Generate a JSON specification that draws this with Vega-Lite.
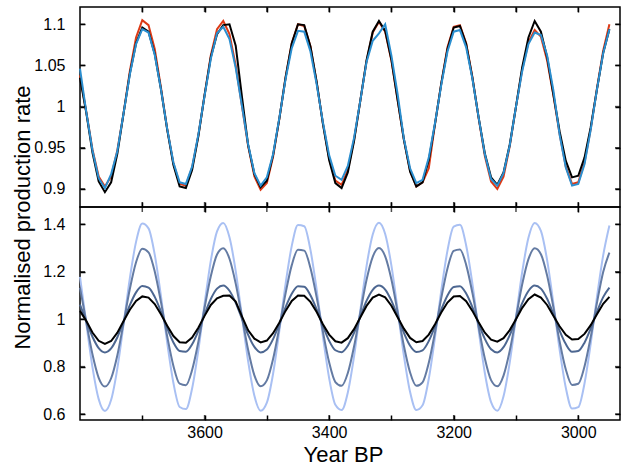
{
  "$schema": "https://vega.github.io/schema/vega-lite/v6.json",
  "padding": {"left": 10, "top": 6, "right": 3, "bottom": 0},
  "spacing": 0,
  "bounds": "flush",
  "config": {
    "view": {"stroke": "black", "strokeWidth": 1.5},
    "axis": {
      "domain": false, "grid": false, "ticks": false, "tickSize": 0,
      "gridColor": "#000000", "gridWidth": 1.5, "gridDash": [5, 1200], "gridOpacity": 1,
      "labelFont": "Liberation Sans", "labelFontSize": 16, "labelColor": "black",
      "titleFont": "Liberation Sans", "titleFontSize": 22, "titleFontWeight": "normal", "titleColor": "black"
    },
    "tick": {"color": "black", "thickness": 1.5, "size": 5}
  },
  "vconcat": [
    {
      "width": 540,
      "height": 200,
      "data": {"values": [
        {"yr":3800,"K":1.035,"R":1.038,"B":1.046},
        {"yr":3790,"K":0.993,"R":0.994,"B":0.994},
        {"yr":3780,"K":0.944,"R":0.948,"B":0.947},
        {"yr":3770,"K":0.909,"R":0.915,"B":0.913},
        {"yr":3760,"K":0.896,"R":0.903,"B":0.901},
        {"yr":3750,"K":0.908,"R":0.915,"B":0.918},
        {"yr":3740,"K":0.943,"R":0.947,"B":0.946},
        {"yr":3730,"K":0.992,"R":0.992,"B":0.992},
        {"yr":3720,"K":1.040,"R":1.043,"B":1.039},
        {"yr":3710,"K":1.077,"R":1.084,"B":1.076},
        {"yr":3700,"K":1.096,"R":1.105,"B":1.094},
        {"yr":3690,"K":1.091,"R":1.099,"B":1.090},
        {"yr":3680,"K":1.064,"R":1.070,"B":1.063},
        {"yr":3670,"K":1.021,"R":1.023,"B":1.021},
        {"yr":3660,"K":0.972,"R":0.973,"B":0.973},
        {"yr":3650,"K":0.929,"R":0.931,"B":0.932},
        {"yr":3640,"K":0.903,"R":0.906,"B":0.908},
        {"yr":3630,"K":0.901,"R":0.904,"B":0.906},
        {"yr":3620,"K":0.923,"R":0.926,"B":0.927},
        {"yr":3610,"K":0.964,"R":0.965,"B":0.966},
        {"yr":3600,"K":1.014,"R":1.014,"B":1.013},
        {"yr":3590,"K":1.060,"R":1.062,"B":1.058},
        {"yr":3580,"K":1.088,"R":1.094,"B":1.089},
        {"yr":3570,"K":1.099,"R":1.104,"B":1.097},
        {"yr":3560,"K":1.100,"R":1.088,"B":1.082},
        {"yr":3550,"K":1.074,"R":1.050,"B":1.047},
        {"yr":3540,"K":1.012,"R":1.001,"B":1.001},
        {"yr":3530,"K":0.953,"R":0.952,"B":0.954},
        {"yr":3520,"K":0.918,"R":0.915,"B":0.919},
        {"yr":3510,"K":0.902,"R":0.899,"B":0.904},
        {"yr":3500,"K":0.910,"R":0.907,"B":0.914},
        {"yr":3490,"K":0.941,"R":0.939,"B":0.942},
        {"yr":3480,"K":0.985,"R":0.985,"B":0.986},
        {"yr":3470,"K":1.035,"R":1.035,"B":1.033},
        {"yr":3460,"K":1.077,"R":1.077,"B":1.071},
        {"yr":3450,"K":1.100,"R":1.100,"B":1.092},
        {"yr":3440,"K":1.099,"R":1.098,"B":1.091},
        {"yr":3430,"K":1.073,"R":1.073,"B":1.067},
        {"yr":3420,"K":1.030,"R":1.029,"B":1.027},
        {"yr":3410,"K":0.979,"R":0.980,"B":0.981},
        {"yr":3400,"K":0.935,"R":0.937,"B":0.941},
        {"yr":3390,"K":0.907,"R":0.910,"B":0.916},
        {"yr":3380,"K":0.901,"R":0.905,"B":0.911},
        {"yr":3370,"K":0.920,"R":0.923,"B":0.928},
        {"yr":3360,"K":0.958,"R":0.960,"B":0.962},
        {"yr":3350,"K":1.007,"R":1.007,"B":1.007},
        {"yr":3340,"K":1.056,"R":1.055,"B":1.054},
        {"yr":3330,"K":1.091,"R":1.090,"B":1.080},
        {"yr":3320,"K":1.104,"R":1.103,"B":1.089},
        {"yr":3310,"K":1.092,"R":1.091,"B":1.100},
        {"yr":3300,"K":1.057,"R":1.056,"B":1.062},
        {"yr":3290,"K":1.008,"R":1.008,"B":1.015},
        {"yr":3280,"K":0.960,"R":0.960,"B":0.961},
        {"yr":3270,"K":0.921,"R":0.922,"B":0.925},
        {"yr":3260,"K":0.903,"R":0.903,"B":0.907},
        {"yr":3250,"K":0.908,"R":0.908,"B":0.911},
        {"yr":3240,"K":0.935,"R":0.925,"B":0.938},
        {"yr":3230,"K":0.979,"R":0.979,"B":0.980},
        {"yr":3220,"K":1.028,"R":1.028,"B":1.026},
        {"yr":3210,"K":1.070,"R":1.072,"B":1.067},
        {"yr":3200,"K":1.096,"R":1.097,"B":1.091},
        {"yr":3190,"K":1.098,"R":1.099,"B":1.093},
        {"yr":3180,"K":1.076,"R":1.077,"B":1.072},
        {"yr":3170,"K":1.035,"R":1.036,"B":1.034},
        {"yr":3160,"K":0.987,"R":0.986,"B":0.987},
        {"yr":3150,"K":0.943,"R":0.940,"B":0.942},
        {"yr":3140,"K":0.914,"R":0.909,"B":0.912},
        {"yr":3130,"K":0.905,"R":0.900,"B":0.904},
        {"yr":3120,"K":0.920,"R":0.915,"B":0.919},
        {"yr":3110,"K":0.954,"R":0.952,"B":0.953},
        {"yr":3100,"K":1.000,"R":1.000,"B":1.000},
        {"yr":3090,"K":1.048,"R":1.045,"B":1.043},
        {"yr":3080,"K":1.084,"R":1.078,"B":1.076},
        {"yr":3070,"K":1.104,"R":1.093,"B":1.090},
        {"yr":3060,"K":1.091,"R":1.085,"B":1.087},
        {"yr":3050,"K":1.060,"R":1.056,"B":1.062},
        {"yr":3040,"K":1.015,"R":1.014,"B":1.020},
        {"yr":3030,"K":0.970,"R":0.967,"B":0.966},
        {"yr":3020,"K":0.934,"R":0.927,"B":0.926},
        {"yr":3010,"K":0.914,"R":0.906,"B":0.904},
        {"yr":3000,"K":0.916,"R":0.908,"B":0.906},
        {"yr":2990,"K":0.938,"R":0.932,"B":0.930},
        {"yr":2980,"K":0.975,"R":0.973,"B":0.972},
        {"yr":2970,"K":1.021,"R":1.022,"B":1.021},
        {"yr":2960,"K":1.065,"R":1.068,"B":1.065},
        {"yr":2950,"K":1.094,"R":1.100,"B":1.094}
      ]},
      "layer": [
        {
          "mark": {"type": "line", "color": "#dd3a16", "strokeWidth": 2},
          "encoding": {
            "x": {"field": "yr", "type": "quantitative",
                  "scale": {"domain": [2933, 3800], "reverse": true, "nice": false, "zero": false},
                  "axis": {"orient": "bottom", "values": [3700,3600,3500,3400,3300,3200,3100,3000], "labels": false, "title": null, "grid": true}},
            "y": {"field": "R", "type": "quantitative",
                  "scale": {"domain": [0.878, 1.121], "nice": false, "zero": false},
                  "axis": {"orient": "left", "values": [0.9,0.95,1,1.05,1.1], "format": "~g", "labelPadding": 15, "grid": true,
                           "title": "Normalised production rate", "titleAngle": -90, "titleX": -51, "titleY": 210,
                           "titleBaseline": "alphabetic", "titleAlign": "center"}}
          }
        },
        {
          "mark": {"type": "line", "color": "#000000", "strokeWidth": 2},
          "encoding": {
            "x": {"field": "yr", "type": "quantitative",
                  "scale": {"domain": [2933, 3800], "reverse": true, "nice": false, "zero": false},
                  "axis": {"orient": "top", "values": [3700,3600,3500,3400,3300,3200,3100,3000], "labels": false, "title": null, "grid": true}},
            "y": {"field": "K", "type": "quantitative",
                  "scale": {"domain": [0.878, 1.121], "nice": false, "zero": false},
                  "axis": {"orient": "right", "values": [0.9,0.95,1,1.05,1.1], "labels": false, "title": null, "grid": true}}
          }
        },
        {
          "mark": {"type": "line", "color": "#2b8fd0", "strokeWidth": 2},
          "encoding": {
            "x": {"field": "yr", "type": "quantitative",
                  "scale": {"domain": [2933, 3800], "reverse": true, "nice": false, "zero": false}, "axis": null},
            "y": {"field": "B", "type": "quantitative",
                  "scale": {"domain": [0.878, 1.121], "nice": false, "zero": false}, "axis": null}
          }
        },
        {
          "data": {"values": [{"v":3700},{"v":3600},{"v":3500},{"v":3400},{"v":3300},{"v":3200},{"v":3100},{"v":3000}]},
          "mark": {"type": "tick", "orient": "vertical", "yOffset": 2.5},
          "encoding": {
            "x": {"field": "v", "type": "quantitative",
                  "scale": {"domain": [2933, 3800], "reverse": true, "nice": false, "zero": false}, "axis": null},
            "y": {"datum": 1.121, "type": "quantitative",
                  "scale": {"domain": [0.878, 1.121], "nice": false, "zero": false}, "axis": null}
          }
        },
        {
          "data": {"values": [{"v":3700},{"v":3600},{"v":3500},{"v":3400},{"v":3300},{"v":3200},{"v":3100},{"v":3000}]},
          "mark": {"type": "tick", "orient": "vertical", "yOffset": -2.5},
          "encoding": {
            "x": {"field": "v", "type": "quantitative",
                  "scale": {"domain": [2933, 3800], "reverse": true, "nice": false, "zero": false}, "axis": null},
            "y": {"datum": 0.878, "type": "quantitative",
                  "scale": {"domain": [0.878, 1.121], "nice": false, "zero": false}, "axis": null}
          }
        },
        {
          "data": {"values": [{"v":0.9},{"v":0.95},{"v":1},{"v":1.05},{"v":1.1}]},
          "mark": {"type": "tick", "orient": "horizontal", "xOffset": 2.5},
          "encoding": {
            "x": {"datum": 3800, "type": "quantitative",
                  "scale": {"domain": [2933, 3800], "reverse": true, "nice": false, "zero": false}, "axis": null},
            "y": {"field": "v", "type": "quantitative",
                  "scale": {"domain": [0.878, 1.121], "nice": false, "zero": false}, "axis": null}
          }
        },
        {
          "data": {"values": [{"v":0.9},{"v":0.95},{"v":1},{"v":1.05},{"v":1.1}]},
          "mark": {"type": "tick", "orient": "horizontal", "xOffset": -2.5},
          "encoding": {
            "x": {"datum": 2933, "type": "quantitative",
                  "scale": {"domain": [2933, 3800], "reverse": true, "nice": false, "zero": false}, "axis": null},
            "y": {"field": "v", "type": "quantitative",
                  "scale": {"domain": [0.878, 1.121], "nice": false, "zero": false}, "axis": null}
          }
        }
      ],
      "resolve": {"axis": {"x": "independent", "y": "independent"}}
    },
    {
      "width": 540,
      "height": 213,
      "data": {"values": [
        {"yr":3800,"L":1.178,"M3":1.132,"M15":1.061,"K":1.035},
        {"yr":3790,"L":0.985,"M3":0.989,"M15":0.992,"K":0.993},
        {"yr":3780,"L":0.798,"M3":0.852,"M15":0.926,"K":0.944},
        {"yr":3770,"L":0.663,"M3":0.753,"M15":0.878,"K":0.909},
        {"yr":3760,"L":0.613,"M3":0.716,"M15":0.860,"K":0.896},
        {"yr":3750,"L":0.660,"M3":0.751,"M15":0.877,"K":0.908},
        {"yr":3740,"L":0.793,"M3":0.848,"M15":0.924,"K":0.943},
        {"yr":3730,"L":0.979,"M3":0.985,"M15":0.990,"K":0.992},
        {"yr":3720,"L":1.172,"M3":1.127,"M15":1.059,"K":1.040},
        {"yr":3710,"L":1.326,"M3":1.240,"M15":1.113,"K":1.077},
        {"yr":3700,"L":1.403,"M3":1.297,"M15":1.140,"K":1.096},
        {"yr":3690,"L":1.383,"M3":1.282,"M15":1.133,"K":1.091},
        {"yr":3680,"L":1.272,"M3":1.201,"M15":1.094,"K":1.064},
        {"yr":3670,"L":1.097,"M3":1.072,"M15":1.032,"K":1.021},
        {"yr":3660,"L":0.901,"M3":0.928,"M15":0.962,"K":0.972},
        {"yr":3650,"L":0.731,"M3":0.803,"M15":0.902,"K":0.929},
        {"yr":3640,"L":0.630,"M3":0.728,"M15":0.866,"K":0.903},
        {"yr":3630,"L":0.621,"M3":0.722,"M15":0.863,"K":0.901},
        {"yr":3620,"L":0.708,"M3":0.786,"M15":0.894,"K":0.923},
        {"yr":3610,"L":0.869,"M3":0.904,"M15":0.951,"K":0.964},
        {"yr":3600,"L":1.064,"M3":1.048,"M15":1.020,"K":1.014},
        {"yr":3590,"L":1.246,"M3":1.181,"M15":1.085,"K":1.060},
        {"yr":3580,"L":1.370,"M3":1.273,"M15":1.129,"K":1.088},
        {"yr":3570,"L":1.406,"M3":1.299,"M15":1.142,"K":1.099},
        {"yr":3560,"L":1.345,"M3":1.255,"M15":1.120,"K":1.100},
        {"yr":3550,"L":1.203,"M3":1.150,"M15":1.069,"K":1.074},
        {"yr":3540,"L":1.012,"M3":1.010,"M15":1.002,"K":1.012},
        {"yr":3530,"L":0.822,"M3":0.870,"M15":0.934,"K":0.953},
        {"yr":3520,"L":0.677,"M3":0.763,"M15":0.883,"K":0.918},
        {"yr":3510,"L":0.614,"M3":0.717,"M15":0.860,"K":0.902},
        {"yr":3500,"L":0.648,"M3":0.742,"M15":0.872,"K":0.910},
        {"yr":3490,"L":0.770,"M3":0.832,"M15":0.916,"K":0.941},
        {"yr":3480,"L":0.951,"M3":0.965,"M15":0.980,"K":0.985},
        {"yr":3470,"L":1.147,"M3":1.108,"M15":1.050,"K":1.035},
        {"yr":3460,"L":1.309,"M3":1.228,"M15":1.107,"K":1.077},
        {"yr":3450,"L":1.397,"M3":1.293,"M15":1.139,"K":1.100},
        {"yr":3440,"L":1.392,"M3":1.289,"M15":1.137,"K":1.099},
        {"yr":3430,"L":1.292,"M3":1.216,"M15":1.101,"K":1.073},
        {"yr":3420,"L":1.124,"M3":1.092,"M15":1.041,"K":1.030},
        {"yr":3410,"L":0.928,"M3":0.948,"M15":0.972,"K":0.979},
        {"yr":3400,"L":0.752,"M3":0.818,"M15":0.909,"K":0.935},
        {"yr":3390,"L":0.639,"M3":0.735,"M15":0.869,"K":0.907},
        {"yr":3380,"L":0.617,"M3":0.719,"M15":0.861,"K":0.901},
        {"yr":3370,"L":0.691,"M3":0.773,"M15":0.888,"K":0.920},
        {"yr":3360,"L":0.843,"M3":0.885,"M15":0.942,"K":0.958},
        {"yr":3350,"L":1.036,"M3":1.027,"M15":1.010,"K":1.007},
        {"yr":3340,"L":1.223,"M3":1.165,"M15":1.077,"K":1.056},
        {"yr":3330,"L":1.357,"M3":1.263,"M15":1.124,"K":1.091},
        {"yr":3320,"L":1.407,"M3":1.300,"M15":1.142,"K":1.104},
        {"yr":3310,"L":1.359,"M3":1.265,"M15":1.125,"K":1.092},
        {"yr":3300,"L":1.226,"M3":1.167,"M15":1.078,"K":1.057},
        {"yr":3290,"L":1.040,"M3":1.030,"M15":1.012,"K":1.008},
        {"yr":3280,"L":0.847,"M3":0.888,"M15":0.943,"K":0.960},
        {"yr":3270,"L":0.693,"M3":0.775,"M15":0.888,"K":0.921},
        {"yr":3260,"L":0.617,"M3":0.719,"M15":0.862,"K":0.903},
        {"yr":3250,"L":0.637,"M3":0.734,"M15":0.869,"K":0.908},
        {"yr":3240,"L":0.749,"M3":0.816,"M15":0.908,"K":0.935},
        {"yr":3230,"L":0.924,"M3":0.945,"M15":0.970,"K":0.979},
        {"yr":3220,"L":1.120,"M3":1.089,"M15":1.040,"K":1.028},
        {"yr":3210,"L":1.289,"M3":1.214,"M15":1.100,"K":1.070},
        {"yr":3200,"L":1.390,"M3":1.288,"M15":1.136,"K":1.096},
        {"yr":3190,"L":1.398,"M3":1.294,"M15":1.139,"K":1.098},
        {"yr":3180,"L":1.311,"M3":1.229,"M15":1.108,"K":1.076},
        {"yr":3170,"L":1.150,"M3":1.111,"M15":1.051,"K":1.035},
        {"yr":3160,"L":0.955,"M3":0.968,"M15":0.982,"K":0.987},
        {"yr":3150,"L":0.773,"M3":0.834,"M15":0.917,"K":0.943},
        {"yr":3140,"L":0.650,"M3":0.743,"M15":0.873,"K":0.914},
        {"yr":3130,"L":0.614,"M3":0.717,"M15":0.860,"K":0.905},
        {"yr":3120,"L":0.675,"M3":0.762,"M15":0.882,"K":0.920},
        {"yr":3110,"L":0.818,"M3":0.867,"M15":0.933,"K":0.954},
        {"yr":3100,"L":1.008,"M3":1.007,"M15":1.000,"K":1.000},
        {"yr":3090,"L":1.199,"M3":1.147,"M15":1.068,"K":1.048},
        {"yr":3080,"L":1.343,"M3":1.253,"M15":1.119,"K":1.084},
        {"yr":3070,"L":1.406,"M3":1.299,"M15":1.142,"K":1.104},
        {"yr":3060,"L":1.372,"M3":1.274,"M15":1.129,"K":1.091},
        {"yr":3050,"L":1.249,"M3":1.184,"M15":1.086,"K":1.060},
        {"yr":3040,"L":1.068,"M3":1.051,"M15":1.022,"K":1.015},
        {"yr":3030,"L":0.873,"M3":0.907,"M15":0.952,"K":0.970},
        {"yr":3020,"L":0.711,"M3":0.788,"M15":0.895,"K":0.934},
        {"yr":3010,"L":0.623,"M3":0.723,"M15":0.863,"K":0.914},
        {"yr":3000,"L":0.629,"M3":0.728,"M15":0.866,"K":0.916},
        {"yr":2990,"L":0.729,"M3":0.801,"M15":0.901,"K":0.938},
        {"yr":2980,"L":0.897,"M3":0.925,"M15":0.961,"K":0.975},
        {"yr":2970,"L":1.093,"M3":1.069,"M15":1.031,"K":1.021},
        {"yr":2960,"L":1.269,"M3":1.199,"M15":1.093,"K":1.065},
        {"yr":2950,"L":1.395,"M3":1.281,"M15":1.133,"K":1.094}
      ]},
      "layer": [
        {
          "mark": {"type": "line", "color": "#a9c0f3", "strokeWidth": 2, "interpolate": "monotone"},
          "encoding": {
            "x": {"field": "yr", "type": "quantitative",
                  "scale": {"domain": [2933, 3800], "reverse": true, "nice": false, "zero": false},
                  "axis": {"orient": "bottom", "values": [3600,3400,3200,3000], "format": "d", "labelPadding": 4, "grid": true,
                           "title": "Year BP", "titleX": 263, "titleY": 41, "titleBaseline": "alphabetic", "titleAlign": "center"}},
            "y": {"field": "L", "type": "quantitative",
                  "scale": {"domain": [0.575, 1.473], "nice": false, "zero": false},
                  "axis": {"orient": "left", "values": [0.6,0.8,1,1.2,1.4], "format": "~g", "labelPadding": 15, "title": null, "grid": true}}
          }
        },
        {
          "mark": {"type": "line", "color": "#647ba3", "strokeWidth": 2, "interpolate": "monotone"},
          "encoding": {
            "x": {"field": "yr", "type": "quantitative",
                  "scale": {"domain": [2933, 3800], "reverse": true, "nice": false, "zero": false},
                  "axis": {"orient": "top", "values": [3700,3600,3500,3400,3300,3200,3100,3000], "labels": false, "title": null, "grid": true}},
            "y": {"field": "M3", "type": "quantitative",
                  "scale": {"domain": [0.575, 1.473], "nice": false, "zero": false},
                  "axis": {"orient": "right", "values": [0.6,0.8,1,1.2,1.4], "labels": false, "title": null, "grid": true}}
          }
        },
        {
          "mark": {"type": "line", "color": "#4d6791", "strokeWidth": 2, "interpolate": "monotone"},
          "encoding": {
            "x": {"field": "yr", "type": "quantitative",
                  "scale": {"domain": [2933, 3800], "reverse": true, "nice": false, "zero": false}, "axis": null},
            "y": {"field": "M15", "type": "quantitative",
                  "scale": {"domain": [0.575, 1.473], "nice": false, "zero": false}, "axis": null}
          }
        },
        {
          "mark": {"type": "line", "color": "#000000", "strokeWidth": 2},
          "encoding": {
            "x": {"field": "yr", "type": "quantitative",
                  "scale": {"domain": [2933, 3800], "reverse": true, "nice": false, "zero": false}, "axis": null},
            "y": {"field": "K", "type": "quantitative",
                  "scale": {"domain": [0.575, 1.473], "nice": false, "zero": false}, "axis": null}
          }
        },
        {
          "data": {"values": [{"v":3700},{"v":3600},{"v":3500},{"v":3400},{"v":3300},{"v":3200},{"v":3100},{"v":3000}]},
          "mark": {"type": "tick", "orient": "vertical", "yOffset": 2.5},
          "encoding": {
            "x": {"field": "v", "type": "quantitative",
                  "scale": {"domain": [2933, 3800], "reverse": true, "nice": false, "zero": false}, "axis": null},
            "y": {"datum": 1.473, "type": "quantitative",
                  "scale": {"domain": [0.575, 1.473], "nice": false, "zero": false}, "axis": null}
          }
        },
        {
          "data": {"values": [{"v":3600},{"v":3400},{"v":3200},{"v":3000}]},
          "mark": {"type": "tick", "orient": "vertical", "yOffset": -2.5},
          "encoding": {
            "x": {"field": "v", "type": "quantitative",
                  "scale": {"domain": [2933, 3800], "reverse": true, "nice": false, "zero": false}, "axis": null},
            "y": {"datum": 0.575, "type": "quantitative",
                  "scale": {"domain": [0.575, 1.473], "nice": false, "zero": false}, "axis": null}
          }
        },
        {
          "data": {"values": [{"v":0.6},{"v":0.8},{"v":1},{"v":1.2},{"v":1.4}]},
          "mark": {"type": "tick", "orient": "horizontal", "xOffset": 2.5},
          "encoding": {
            "x": {"datum": 3800, "type": "quantitative",
                  "scale": {"domain": [2933, 3800], "reverse": true, "nice": false, "zero": false}, "axis": null},
            "y": {"field": "v", "type": "quantitative",
                  "scale": {"domain": [0.575, 1.473], "nice": false, "zero": false}, "axis": null}
          }
        },
        {
          "data": {"values": [{"v":0.6},{"v":0.8},{"v":1},{"v":1.2},{"v":1.4}]},
          "mark": {"type": "tick", "orient": "horizontal", "xOffset": -2.5},
          "encoding": {
            "x": {"datum": 2933, "type": "quantitative",
                  "scale": {"domain": [2933, 3800], "reverse": true, "nice": false, "zero": false}, "axis": null},
            "y": {"field": "v", "type": "quantitative",
                  "scale": {"domain": [0.575, 1.473], "nice": false, "zero": false}, "axis": null}
          }
        }
      ],
      "resolve": {"axis": {"x": "independent", "y": "independent"}}
    }
  ]
}
